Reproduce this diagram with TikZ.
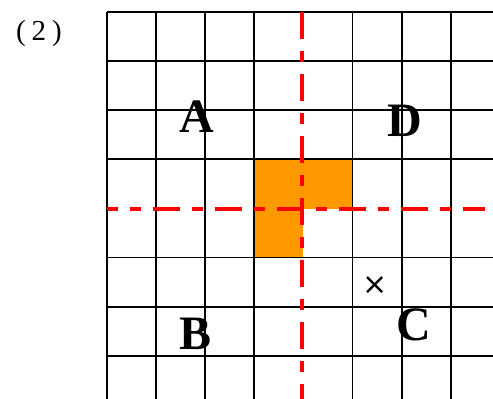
\documentclass[tikz,border=0pt]{standalone}
\usepackage{fontspec}
\setmainfont{Liberation Serif}
\newfontfamily\crossfont{DejaVu Sans}
\usetikzlibrary{positioning}
\definecolor{cellorange}{HTML}{FF9900}
\tikzset{
  gridln/.style ={line width=1.8pt, black},
  axisln/.style ={line width=3.2pt, red,
                  dash pattern=on 27pt off 12pt on 11pt off 12pt},
  shade/.style  ={fill=cellorange},
  region/.style ={font=\bfseries\fontsize{48}{48}\selectfont, inner sep=0pt},
  markx/.style  ={font=\crossfont\fontsize{30}{30}\selectfont, inner sep=0pt},
  tag/.style    ={font=\fontsize{29}{29}\selectfont, inner sep=0pt},
}

\begin{document}
\begin{tikzpicture}[x=1pt, y=-1pt]
  \useasboundingbox (0,0) rectangle (493,399);
  \clip (0,0) rectangle (493,399);
  % cell size 49.1, grid origin (107,12)
  \fill[shade] (254,160) rectangle (352,209);
  \fill[shade] (254,209) rectangle (303,258);
  % grid lines, the middle ones are the red axes
  \foreach \i in {0,1,2,3,5,6,7,8} {
    \draw[gridln] (107+49.1*\i,12) -- (107+49.1*\i,420);
    \draw[gridln] (107,12+49.1*\i) -- (510,12+49.1*\i);
  }
  \draw[axisln, dash phase=16pt] (107,209) -- (485,209);
  \draw[axisln] (302,12) -- (302,399);
  % region letters
  \node[region] (regA) at (197,117) {A};
  \node[region] (regD) at (405,121) {D};
  \node[region] (regB) at (196,334) {B};
  \node[region] (regC) at (414,325) {C};
  \node[markx] (cross) at (375,286) {×};
  \node[tag] (num) at (39,34) {(\hspace{6pt}2\hspace{6pt})};
\end{tikzpicture}
\end{document}
